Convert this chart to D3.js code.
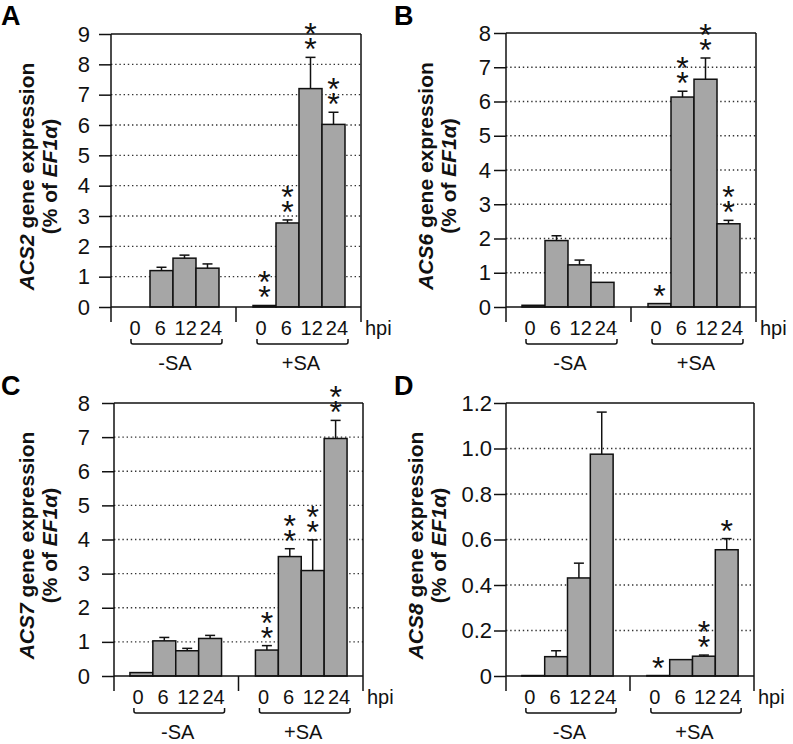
<!DOCTYPE html>
<html><head><meta charset="utf-8">
<script src="https://cdn.jsdelivr.net/npm/d3@7"></script>
<style>body{margin:0;background:#fff}svg{display:block}text{font-family:"Liberation Sans",Arial,Helvetica,sans-serif}</style>
</head><body><svg id="c" width="793" height="744"></svg>
<script>
// ---------- data ----------
const hours = ["0", "6", "12", "24"];
const treatments = ["-SA", "+SA"];

const acs2Minus = [0, 1.20, 1.61, 1.28];
const acs2MinusErr = [0, 0.11, 0.10, 0.14];
const acs2Plus = [0.05, 2.77, 7.20, 6.02];
const acs2PlusErr = [0, 0.10, 1.03, 0.40];
const acs2Stars = [2, 2, 2, 2];
const acs2Ticks = [0, 1, 2, 3, 4, 5, 6, 7, 8, 9];

const acs6Minus = [0.05, 1.94, 1.23, 0.72];
const acs6MinusErr = [0.01, 0.14, 0.14, 0.02];
const acs6Plus = [0.10, 6.13, 6.65, 2.43];
const acs6PlusErr = [0, 0.17, 0.62, 0.10];
const acs6Stars = [1, 2, 2, 2];
const acs6Ticks = [0, 1, 2, 3, 4, 5, 6, 7, 8];

const acs7Minus = [0.10, 1.03, 0.74, 1.10];
const acs7MinusErr = [0.01, 0.10, 0.07, 0.09];
const acs7Plus = [0.76, 3.50, 3.09, 6.96];
const acs7PlusErr = [0.13, 0.23, 0.90, 0.53];
const acs7Stars = [2, 2, 2, 2];
const acs7Ticks = [0, 1, 2, 3, 4, 5, 6, 7, 8];

const acs8Minus = [0.002, 0.085, 0.431, 0.975];
const acs8MinusErr = [0, 0.026, 0.065, 0.185];
const acs8Plus = [0.002, 0.072, 0.087, 0.555];
const acs8PlusErr = [0, 0.004, 0.005, 0.049];
const acs8Stars = [1, 0, 2, 1];
const acs8Ticks = [0, 0.2, 0.4, 0.6, 0.8, 1.0, 1.2];

// ---------- layout ----------
const panels = [
  {letter: "A", gene: "ACS2", minus: acs2Minus, minusErr: acs2MinusErr, plus: acs2Plus, plusErr: acs2PlusErr, stars: acs2Stars, ticks: acs2Ticks,
   fmt: d => String(d), box: {l: 111, r: 361, t: 34, b: 307}, pad: 9, t1: 34, t2: 57, lx: 1, ly: 25},
  {letter: "B", gene: "ACS6", minus: acs6Minus, minusErr: acs6MinusErr, plus: acs6Plus, plusErr: acs6PlusErr, stars: acs6Stars, ticks: acs6Ticks,
   fmt: d => String(d), box: {l: 506, r: 756, t: 33, b: 307}, pad: 3, t1: 433, t2: 456, lx: 394, ly: 25},
  {letter: "C", gene: "ACS7", minus: acs7Minus, minusErr: acs7MinusErr, plus: acs7Plus, plusErr: acs7PlusErr, stars: acs7Stars, ticks: acs7Ticks,
   fmt: d => String(d), box: {l: 114, r: 363, t: 403, b: 676}, pad: 12, t1: 34, t2: 57, lx: 1, ly: 395},
  {letter: "D", gene: "ACS8", minus: acs8Minus, minusErr: acs8MinusErr, plus: acs8Plus, plusErr: acs8PlusErr, stars: acs8Stars, ticks: acs8Ticks,
   fmt: d => d === 0 ? "0" : d3.format(".1f")(d), box: {l: 506, r: 754, t: 403, b: 676}, pad: 2, t1: 423, t2: 446, lx: 394, ly: 395}
];

const svg = d3.select("#c");
svg.append("rect").attr("width", 793).attr("height", 744).attr("fill", "#fff");

const BAR = "#a6a6a6", INK = "#111";

function drawPanel(p) {
  const {l, r, t, b} = p.box;
  const g = svg.append("g");
  const ymax = p.ticks[p.ticks.length - 1];
  const y = d3.scaleLinear().domain([0, ymax]).range([b, t]);
  const xg = d3.scaleBand().domain(treatments).range([l, r]).paddingInner(0.27).paddingOuter(0.127);
  const xh = d3.scaleBand().domain(hours).range([0, xg.bandwidth()]);

  // grid
  g.selectAll(".grid").data(p.ticks.filter(v => v > 0 && v < ymax)).join("line")
    .attr("x1", l).attr("x2", r).attr("y1", d => y(d)).attr("y2", d => y(d))
    .attr("stroke", "#333").attr("stroke-width", 1.4).attr("stroke-dasharray", "1.4,2.8");

  const rows = treatments.flatMap((tr, i) => hours.map((h, j) => ({
    tr, h,
    v: i ? p.plus[j] : p.minus[j],
    e: i ? p.plusErr[j] : p.minusErr[j],
    s: i ? p.stars[j] : 0
  })));

  // bars
  g.selectAll(".bar").data(rows).join("rect")
    .attr("x", d => xg(d.tr) + xh(d.h)).attr("width", xh.bandwidth())
    .attr("y", d => y(d.v)).attr("height", d => b - y(d.v))
    .attr("fill", BAR).attr("stroke", INK).attr("stroke-width", 1.5);

  // error bars
  const eb = rows.filter(d => d.e > 0 && (y(d.v) - y(d.v + d.e)) > 1);
  const cx = d => xg(d.tr) + xh(d.h) + xh.bandwidth() / 2;
  g.selectAll(".ev").data(eb).join("line")
    .attr("x1", cx).attr("x2", cx).attr("y1", d => y(d.v)).attr("y2", d => y(d.v + d.e))
    .attr("stroke", INK).attr("stroke-width", 1.5);
  g.selectAll(".ec").data(eb).join("line")
    .attr("x1", d => cx(d) - 5).attr("x2", d => cx(d) + 5).attr("y1", d => y(d.v + d.e)).attr("y2", d => y(d.v + d.e))
    .attr("stroke", INK).attr("stroke-width", 1.5);

  // stars (one text per bar, stacked with tspans)
  const starred = rows.filter(d => d.s > 0);
  g.selectAll(".star").data(starred).join("text")
    .attr("text-anchor", "middle").attr("font-size", 32).attr("fill", INK)
    .each(function(d) {
      const base = y(d.v + d.e) + 3;
      const el = d3.select(this);
      d3.range(d.s).forEach(k => {
        el.append("tspan").attr("x", cx(d)).attr("y", base - 15 * (d.s - 1 - k)).text("*");
      });
    });

  // frame
  const frame = [[l, t, r, t], [r, t, r, b + 15], [l, b, r, b], [l, t, l, b + 15], [(l + r) / 2, b, (l + r) / 2, b + 15]];
  g.selectAll(".frame").data(frame).join("line")
    .attr("x1", d => d[0]).attr("y1", d => d[1]).attr("x2", d => d[2]).attr("y2", d => d[3])
    .attr("stroke", INK).attr("stroke-width", 1.5);

  // y axis
  const ax = g.append("g").attr("transform", `translate(${l},0)`)
    .call(d3.axisLeft(y).tickValues(p.ticks).tickSize(12).tickPadding(p.pad).tickFormat(p.fmt));
  ax.select(".domain").remove();
  ax.selectAll(".tick line").attr("stroke", INK).attr("stroke-width", 1.5);
  ax.selectAll(".tick text").attr("font-size", 22).attr("fill", INK)
    .attr("font-family", '"Liberation Sans",Arial,sans-serif');

  // hour labels (spread slightly around the group centre)
  const gc = d => xg(d.tr) + xg.bandwidth() / 2;
  g.selectAll(".hl").data(rows).join("text")
    .attr("x", d => gc(d) + (cx(d) - gc(d)) * 1.1).attr("y", b + 28).attr("text-anchor", "middle")
    .attr("font-size", 20).attr("fill", INK).text(d => d.h);

  // brackets & group labels
  treatments.forEach(tr => {
    const x0 = xg(tr) + 4, x1 = xg(tr) + xg.bandwidth() + 3, y0 = b + 32, y1 = b + 37;
    g.append("path")
      .attr("d", `M${x0},${y0} L${x0},${y1 - 2} Q${x0},${y1} ${x0 + 2},${y1} L${x1 - 2},${y1} Q${x1},${y1} ${x1},${y1 - 2} L${x1},${y0}`)
      .attr("fill", "none").attr("stroke", INK).attr("stroke-width", 1.5);
    g.append("text").attr("x", xg(tr) + xg.bandwidth() / 2 + 2).attr("y", b + 63)
      .attr("text-anchor", "middle").attr("font-size", 20).attr("fill", INK).text(tr);
  });

  g.append("text").attr("x", r + 4).attr("y", b + 28).attr("font-size", 20).attr("fill", INK).text("hpi");

  // y title
  const cy = (t + b) / 2 + 6;
  const t1 = g.append("text").attr("transform", `translate(${p.t1},${cy}) rotate(-90)`)
    .attr("text-anchor", "middle").attr("font-size", 21).attr("font-weight", "bold").attr("fill", INK);
  t1.append("tspan").attr("font-style", "italic").text(p.gene);
  t1.append("tspan").text(" gene expression");
  const t2 = g.append("text").attr("transform", `translate(${p.t2},${cy}) rotate(-90)`)
    .attr("text-anchor", "middle").attr("font-size", 21).attr("font-weight", "bold").attr("fill", INK);
  t2.append("tspan").text("(% of ");
  t2.append("tspan").attr("font-style", "italic").text("EF1α");
  t2.append("tspan").text(")");

  // panel letter
  g.append("text").attr("x", p.lx).attr("y", p.ly).attr("font-size", 27).attr("font-weight", "bold").attr("fill", "#000").text(p.letter);
}

panels.forEach(drawPanel);
</script></body></html>
